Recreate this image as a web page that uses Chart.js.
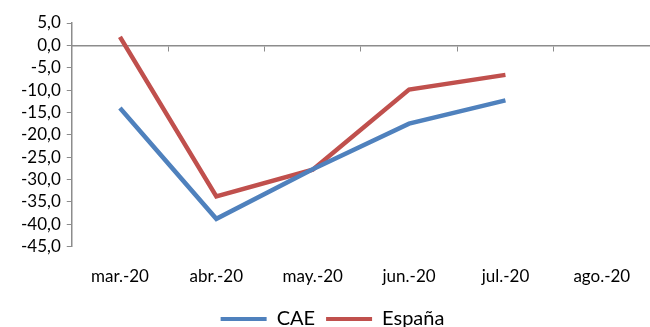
<!DOCTYPE html>
<html>
<head>
<meta charset="utf-8">
<script src="https://cdn.jsdelivr.net/npm/chart.js@4"></script>
<style>
    html, body { margin: 0; padding: 0; background: #fff; }
    #wrap { width: 650px; height: 327px; }
</style>
</head>
<body>
<div id="wrap"><canvas id="chart" width="650" height="327"></canvas></div>
<script>
// Data
const months = ['mar.-20', 'abr.-20', 'may.-20', 'jun.-20', 'jul.-20', 'ago.-20'];
const caeValues = [-14.0, -38.8, -27.7, -17.5, -12.3, null];
const espanaValues = [1.9, -33.8, -27.8, -9.9, -6.6, null];

const axisGrey = '#8c8c8c';
const axisFont = { family: 'Lato, "Open Sans", sans-serif', size: 17 };
const xFont = { family: 'Lato, "Open Sans", sans-serif', size: 17, lineHeight: 1.85 };
const legendFont = { family: 'Lato, "Open Sans", sans-serif', size: 20 };

const ctx = document.getElementById('chart');

new Chart(ctx, {
    type: 'line',
    data: {
        labels: months,
        datasets: [
            {
                label: 'CAE',
                data: caeValues,
                borderColor: '#4f81bd',
                backgroundColor: '#4f81bd',
                borderWidth: 4.5,
                pointRadius: 0,
                tension: 0,
                xAxisID: 'x'
            },
            {
                label: 'España',
                data: espanaValues,
                borderColor: '#c0504d',
                backgroundColor: '#c0504d',
                borderWidth: 4.5,
                pointRadius: 0,
                tension: 0,
                xAxisID: 'x'
            }
        ]
    },
    options: {
        animation: false,
        responsive: false,
        layout: { padding: { top: 23, right: 0, left: 15, bottom: -12 } },
        plugins: {
            tooltip: { enabled: false },
            legend: {
                position: 'bottom',
                labels: {
                    color: '#000',
                    font: legendFont,
                    boxWidth: 46,
                    boxHeight: 4,
                    padding: 11,
                    generateLabels: chart => Chart.defaults.plugins.legend.labels.generateLabels(chart)
                        .map(item => Object.assign(item, { lineWidth: 0 }))
                }
            }
        },
        scales: {
            x: {
                type: 'category',
                position: 'bottom',
                offset: true,
                border: { display: false },
                grid: { display: false },
                ticks: { color: '#000', font: xFont, padding: 6, maxRotation: 0, autoSkip: false }
            },
            x2: {
                type: 'category',
                labels: months,
                position: { y: 0 },
                offset: true,
                border: { color: axisGrey, width: 1.5 },
                grid: { offset: true, drawOnChartArea: false, drawTicks: true, tickLength: 5, color: axisGrey },
                ticks: { display: false }
            },
            y: {
                min: -45,
                max: 5,
                border: { color: axisGrey, width: 1.5 },
                grid: {
                    color: 'rgba(0,0,0,0)',
                    tickColor: axisGrey,
                    tickLength: 5
                },
                ticks: {
                    stepSize: 5,
                    autoSkip: false,
                    color: '#000',
                    font: axisFont,
                    padding: 6,
                    callback: v => v.toFixed(1).replace('.', ',')
                }
            }
        }
    }
});
</script>
</body>
</html>
